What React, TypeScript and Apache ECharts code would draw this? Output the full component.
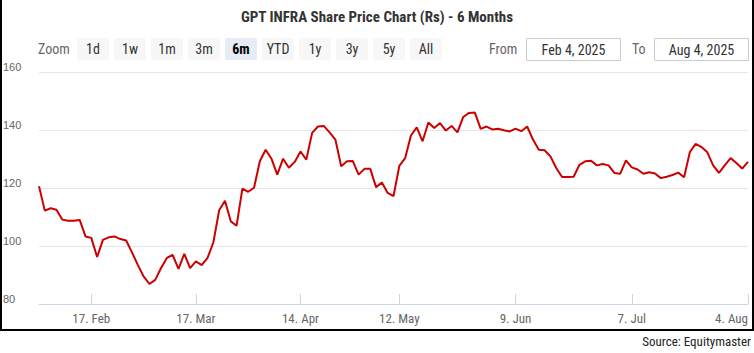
import React, { useEffect, useRef } from "react";
import * as echarts from "echarts";

const FONT =
  "'Liberation Sans Narrow', 'Arial Narrow', 'Roboto Condensed', 'DejaVu Sans Condensed', sans-serif";
const FONT_Y = "'Liberation Sans', Arial, sans-serif";

const titleText = "GPT INFRA Share Price Chart (Rs) - 6 Months";
const sourceText = "Source: Equitymaster";
const rangeButtons = ["1d", "1w", "1m", "3m", "6m", "YTD", "1y", "3y", "5y", "All"];
const selectedButton = "6m";
const fromDate = "Feb 4, 2025";
const toDate = "Aug 4, 2025";

// trading calendar (NSE) between start and end
const startDate = "2025-02-04";
const endDate = "2025-08-04";
const holidays = ["2025-02-26", "2025-03-14", "2025-03-31", "2025-04-10", "2025-04-14", "2025-04-18", "2025-05-01"];

const tickDates = ["2025-02-17", "2025-03-17", "2025-04-15", "2025-05-12", "2025-06-09", "2025-07-07", "2025-08-04"];
const tickLabels = ["17. Feb", "17. Mar", "14. Apr", "12. May", "9. Jun", "7. Jul", "4. Aug"];

const yTicks = [80, 100, 120, 140, 160];

const prices = [
  120.6, 112.2, 113.0, 112.5, 109.1, 108.7, 108.7, 109.0, 103.3, 102.8,
  96.2, 102.1, 103.0, 103.3, 102.4, 101.9, 97.8, 93.5, 89.5, 86.9,
  88.3, 92.4, 95.9, 96.9, 92.1, 97.3, 92.4, 94.7, 93.4, 95.9,
  101.2, 112.3, 115.6, 108.5, 107.0, 119.8, 118.7, 120.1, 129.2, 133.2,
  130.1, 124.6, 130.1, 127.0, 129.0, 132.6, 129.8, 139.0, 141.2, 141.4,
  139.2, 136.7, 127.5, 129.2, 129.3, 124.6, 126.6, 126.6, 120.3, 121.9,
  118.3, 117.2, 127.6, 130.3, 138.1, 140.9, 136.1, 142.6, 140.7, 142.4,
  139.8, 141.4, 139.2, 144.5, 145.9, 146.0, 140.4, 141.2, 140.2, 140.4,
  139.9, 139.5, 140.5, 139.6, 141.2, 136.7, 133.2, 133.0, 130.9, 126.9,
  123.8, 123.8, 123.9, 128.0, 129.2, 129.4, 127.8, 128.3, 127.8, 125.2,
  124.9, 129.5, 127.1, 126.4, 124.9, 125.4, 125.0, 123.4, 123.9, 124.5,
  125.3, 123.7, 132.4, 135.2, 134.1, 132.3, 127.8, 125.2, 127.8, 130.3,
  128.6, 126.7, 129.0,
];

function tradingDays(start: string, end: string, skip: string[]): string[] {
  const out: string[] = [];
  const d = new Date(start + "T00:00:00Z");
  const e = new Date(end + "T00:00:00Z");
  while (d <= e) {
    const wd = d.getUTCDay();
    const s = d.toISOString().slice(0, 10);
    if (wd !== 0 && wd !== 6 && !skip.includes(s)) out.push(s);
    d.setUTCDate(d.getUTCDate() + 1);
  }
  return out;
}

const dates = tradingDays(startDate, endDate, holidays);

export default function App() {
  const ref = useRef<HTMLDivElement>(null);

  useEffect(() => {
    if (!ref.current) return;
    const chart = echarts.init(ref.current, undefined, { renderer: "svg" });

    const graphics: any[] = [];
    graphics.push({
      type: "text",
      x: 38,
      y: 49,
      style: { text: "Zoom", fill: "#666666", fontSize: 14, fontFamily: FONT, verticalAlign: "middle" },
    });
    rangeButtons.forEach((b, i) => {
      const x = 77 + i * 37;
      const sel = b === selectedButton;
      graphics.push({
        type: "rect",
        shape: { x, y: 38, width: 32, height: 22, r: 2 },
        style: { fill: sel ? "#e6ebf5" : "#f7f7f7" },
      });
      graphics.push({
        type: "text",
        x: x + 16,
        y: 49,
        style: {
          text: b,
          fill: sel ? "#000000" : "#333333",
          fontSize: 14,
          fontWeight: sel ? "bold" : "normal",
          fontFamily: FONT,
          align: "center",
          verticalAlign: "middle",
        },
      });
    });
    graphics.push({
      type: "text",
      x: 489,
      y: 49,
      style: { text: "From", fill: "#666666", fontSize: 14, fontFamily: FONT, verticalAlign: "middle" },
    });
    graphics.push({
      type: "rect",
      shape: { x: 526.5, y: 38.5, width: 94, height: 22 },
      style: { fill: "#ffffff", stroke: "#cccccc", lineWidth: 1 },
    });
    graphics.push({
      type: "text",
      x: 573.5,
      y: 49.5,
      style: { text: fromDate, fill: "#333333", fontSize: 14, fontFamily: FONT, align: "center", verticalAlign: "middle" },
    });
    graphics.push({
      type: "text",
      x: 632,
      y: 49,
      style: { text: "To", fill: "#666666", fontSize: 14, fontFamily: FONT, verticalAlign: "middle" },
    });
    graphics.push({
      type: "rect",
      shape: { x: 654.5, y: 38.5, width: 94, height: 22 },
      style: { fill: "#ffffff", stroke: "#cccccc", lineWidth: 1 },
    });
    graphics.push({
      type: "text",
      x: 701.5,
      y: 49.5,
      style: { text: toDate, fill: "#333333", fontSize: 14, fontFamily: FONT, align: "center", verticalAlign: "middle" },
    });
    graphics.push({
      type: "text",
      x: 751,
      y: 341,
      style: { text: sourceText, fill: "#222222", fontSize: 13, fontFamily: FONT, align: "right", verticalAlign: "middle" },
    });

    const showTick = (_idx: number, val: string) => tickDates.includes(val);

    chart.setOption({
      animation: false,
      title: {
        text: titleText,
        left: "center",
        top: 4,
        textStyle: { fontSize: 15, fontWeight: "bold", color: "#333333", fontFamily: FONT },
      },
      grid: { left: 39, right: 6, top: 72, height: 232, containLabel: false },
      xAxis: {
        type: "category",
        data: dates,
        boundaryGap: false,
        axisLine: { lineStyle: { color: "#ccd6eb", width: 1 } },
        axisTick: { interval: showTick, inside: true, length: 10, lineStyle: { color: "#ccd6eb" } },
        axisLabel: {
          interval: showTick,
          formatter: (v: string) => {
            const k = tickDates.indexOf(v);
            return k >= 0 ? tickLabels[k] : "";
          },
          color: "#666666",
          fontSize: 13,
          fontFamily: FONT,
          margin: 8,
          alignMaxLabel: "right",
        },
        splitLine: { show: false },
      },
      yAxis: {
        type: "value",
        min: yTicks[0],
        max: yTicks[yTicks.length - 1],
        interval: 20,
        axisLine: { show: false },
        axisTick: { show: false },
        axisLabel: {
          color: "#666666",
          fontSize: 11,
          fontFamily: FONT_Y,
          align: "left",
          margin: 36,
          verticalAlign: "bottom",
        },
        splitLine: { lineStyle: { color: "#e6e6e6", width: 1 } },
      },
      series: [
        {
          type: "line",
          data: prices,
          showSymbol: false,
          lineStyle: { color: "#cc0000", width: 2 },
          itemStyle: { color: "#cc0000" },
        },
      ],
      graphic: graphics,
    });

    return () => chart.dispose();
  }, []);

  return (
    <div style={{ position: "absolute", left: 0, top: 0, width: 754, height: 353, background: "#ffffff" }}>
      <div
        style={{
          position: "absolute",
          left: 0,
          top: 0,
          width: 750,
          height: 329,
          borderLeft: "2px solid #000",
          borderRight: "2px solid #000",
          borderBottom: "2px solid #000",
        }}
      />
      <div ref={ref} style={{ position: "absolute", left: 0, top: 0, width: 754, height: 353 }} />
    </div>
  );
}
